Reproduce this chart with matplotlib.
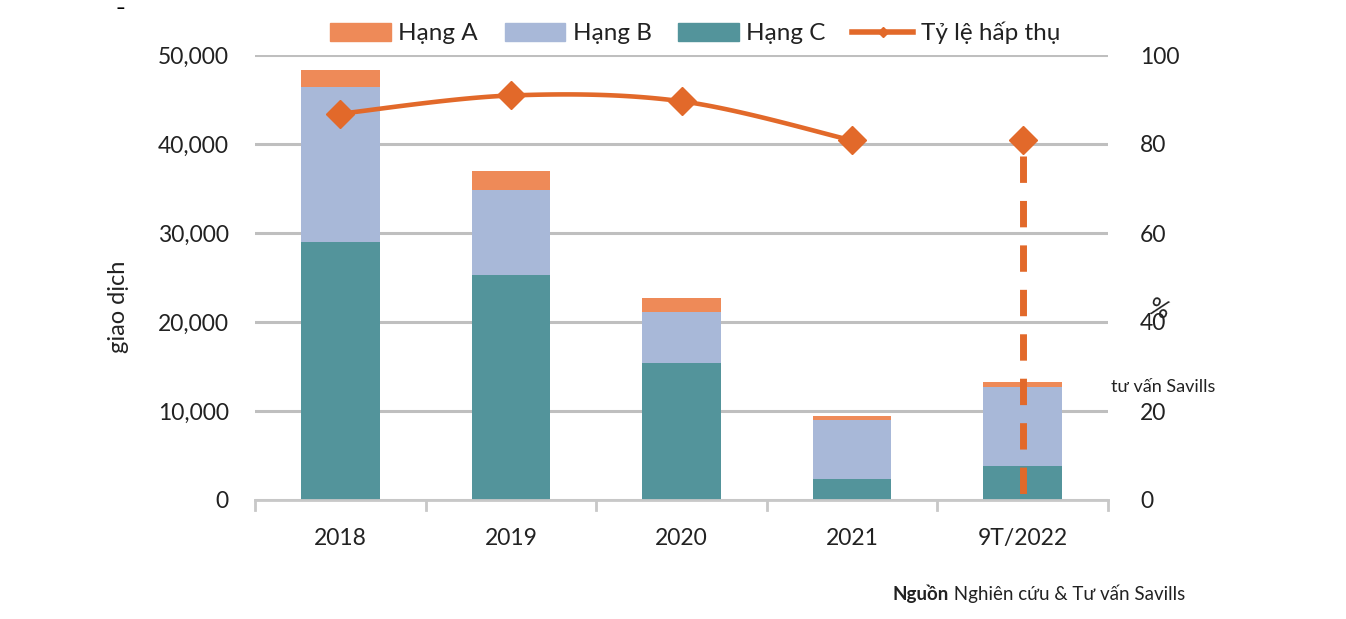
import numpy as np
import matplotlib
matplotlib.use("Agg")
import matplotlib.pyplot as plt
from matplotlib.lines import Line2D
from matplotlib.patches import Patch

plt.rcParams['font.family'] = ['Lato', 'DejaVu Sans']

categories = ["2018", "2019", "2020", "2021", "9T/2022"]
hang_c = [29000, 25300, 15400, 2400, 3800]
hang_b = [17400, 9500, 5700, 6600, 8900]
hang_a = [1900, 2200, 1600, 400, 600]
ty_le = [86.8, 90.9, 89.6, 80.8, 80.8]

col_a = "#EE8A58"
col_b = "#A8B8D8"
col_c = "#53949B"
col_line = "#E2692A"
grid_col = "#BFBFBF"
txt_col = "#222222"

fig = plt.figure(figsize=(13.46, 6.19), dpi=100)
ax = fig.add_axes([255/1346, 1-500/619, (1108-255)/1346, (500-55)/619])
x = np.arange(len(categories))
w = 0.46
c = np.array(hang_c); b = np.array(hang_b); a = np.array(hang_a)
ax.bar(x, c, w, color=col_c, zorder=2)
ax.bar(x, b, w, bottom=c, color=col_b, zorder=2)
ax.bar(x, a, w, bottom=c+b, color=col_a, zorder=2)

ax.set_xlim(-0.5, len(categories)-0.5)
ax.set_ylim(0, 50000)
ax.set_yticks(np.arange(0, 50001, 10000))
ax.set_yticklabels([f"{v:,}" for v in range(0, 50001, 10000)])
ax.yaxis.grid(True, color=grid_col, linewidth=2.2, zorder=0)
ax.set_axisbelow(True)
for s in ["top", "right", "left"]:
    ax.spines[s].set_visible(False)
ax.spines["bottom"].set_color("#C8C8C8")
ax.spines["bottom"].set_linewidth(2)
ax.tick_params(axis="y", length=0, labelsize=16.5, pad=19, labelcolor=txt_col)
ax.set_xticks(x)
ax.set_xticklabels(categories)
ax.tick_params(axis="x", length=0, labelsize=16.5, pad=20, labelcolor=txt_col)
for xb in np.arange(-0.5, len(categories), 1.0):
    ax.plot([xb, xb], [0, -0.022], transform=ax.get_xaxis_transform(), color="#C8C8C8",
            lw=2, clip_on=False)
ax.set_ylabel("giao dịch", fontsize=17, color=txt_col)
ax.yaxis.set_label_coords(-0.148, 0.435)

ax2 = ax.twinx()
ax2.set_ylim(0, 100)
ax2.set_yticks(np.arange(0, 101, 20))
for s in ["top", "right", "left", "bottom"]:
    ax2.spines[s].set_visible(False)
ax2.tick_params(axis="y", length=0, labelsize=16.5, pad=23, labelcolor=txt_col)

# smooth line (Catmull-Rom) through first four points
px = x[:4].astype(float); py = np.array(ty_le[:4])
xs, ys = [], []
pts = list(zip(px, py))
P = [pts[0]] + pts + [pts[-1]]
for i in range(1, len(P)-2):
    p0, p1, p2, p3 = [np.array(p) for p in P[i-1:i+3]]
    for t in np.linspace(0, 1, 30):
        t2, t3 = t*t, t*t*t
        pt = 0.5*((2*p1) + (-p0+p2)*t + (2*p0-5*p1+4*p2-p3)*t2 + (-p0+3*p1-3*p2+p3)*t3)
        xs.append(pt[0]); ys.append(pt[1])
ax2.plot(xs, ys, color=col_line, lw=3.3, zorder=3)
ax2.plot(x, ty_le, linestyle="none", marker="D", markersize=14, color=col_line, zorder=4)
ax2.plot([x[4], x[4]], [ty_le[4] - 3.5, 0], color=col_line, lw=5, dashes=(3.8, 2.6), zorder=3)

ax2.text(1.060, 0.428, "%", transform=ax.transAxes, rotation=-20, fontsize=18,
         ha="center", va="center", color=txt_col)
ax2.text(1.003, 0.255, "tư vấn Savills", transform=ax.transAxes, fontsize=13,
         ha="left", va="center", color=txt_col)

handles = [Patch(color=col_a), Patch(color=col_b), Patch(color=col_c),
           Line2D([0], [0], color=col_line, lw=4, marker="D", markersize=5)]
labels = ["Hạng A", "Hạng B", "Hạng C", "Tỷ lệ hấp thụ"]
fig.legend(handles, labels, loc="center", bbox_to_anchor=(695/1346, 1-33/619), ncol=4,
           frameon=False, fontsize=17.5, handlelength=2.5, handleheight=0.75,
           columnspacing=1.1, handletextpad=0.3, labelcolor=txt_col)

# source note: bold "Nguồn" + regular remainder
rest = fig.text(1185/1346, 1-594/619, " Nghiên cứu & Tư vấn Savills", fontsize=13.5,
                ha="right", va="center", color=txt_col)
renderer = fig.canvas.get_renderer()
bb = rest.get_window_extent(renderer=renderer)
fig.text(bb.x0/fig.bbox.width, 1-594/619, "Nguồn", fontsize=13.5, fontweight="bold",
         ha="right", va="center", color=txt_col)
fig.text(120/1346, 1-8/619, "–", fontsize=12, fontweight="bold", ha="center", va="center")

fig.savefig("out.png", dpi=100, facecolor="white")
